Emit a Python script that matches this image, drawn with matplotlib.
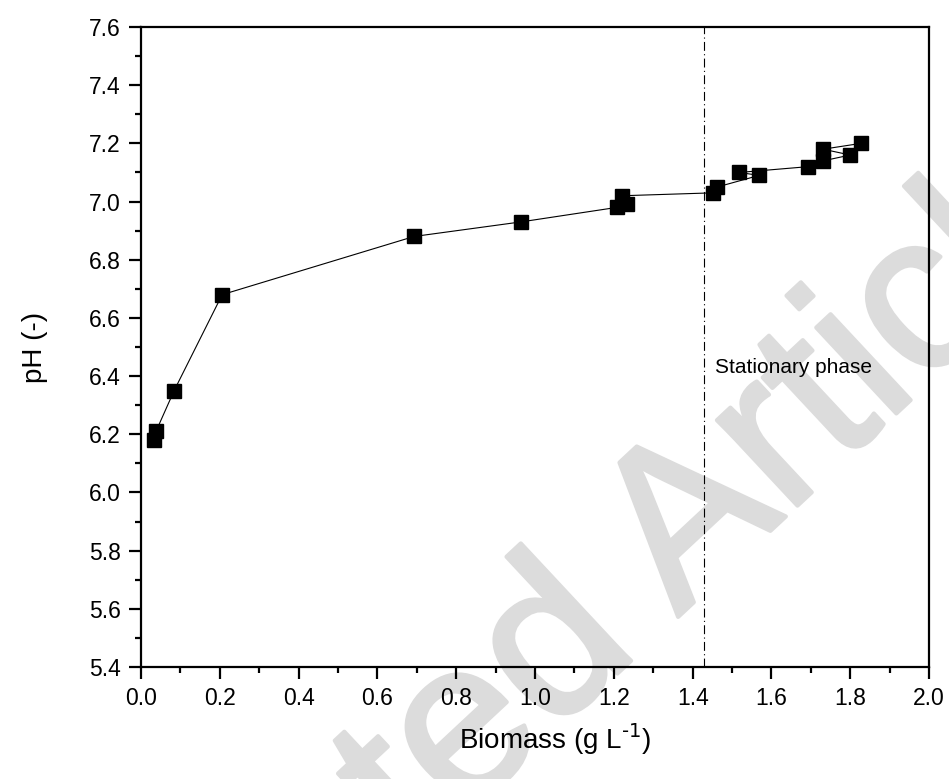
import matplotlib
matplotlib.use("Agg")
import matplotlib.pyplot as plt
from matplotlib.ticker import MultipleLocator, FormatStrFormatter
import matplotlib.patheffects as pe

plt.rcParams['font.family'] = ['Liberation Sans', 'DejaVu Sans']
plt.rcParams['mathtext.default'] = 'regular'

# biomass (g/L) and pH, in sampling order
biomass = [0.033, 0.038, 0.084, 0.206, 0.693, 0.964, 1.208, 1.234, 1.221,
           1.452, 1.462, 1.569, 1.518, 1.693, 1.731, 1.800, 1.731, 1.827]
ph = [6.18, 6.21, 6.35, 6.68, 6.88, 6.93, 6.98, 6.99, 7.02,
      7.03, 7.05, 7.09, 7.10, 7.12, 7.14, 7.16, 7.18, 7.20]

stationary_start = 1.43
phase_label = "Stationary phase"

fig = plt.figure(figsize=(9.49, 7.79), dpi=100)
ax = fig.add_axes([0.1486, 0.1438, 0.8304, 0.8215])
ax.set_facecolor('none')

# watermark behind the plot
wm = fig.text(0.535, 0.105, 'Accepted Article', rotation=43, fontsize=160,
              color='#dcdcdc', ha='center', va='center', rotation_mode='anchor',
              family='Liberation Sans', zorder=-1)
wm.set_path_effects([pe.withStroke(linewidth=3, foreground='#dcdcdc',
                                   capstyle='round', joinstyle='round')])

ax.plot(biomass, ph, color='black', lw=0.8, marker='s', ms=9.5,
        mfc='black', mec='black', zorder=3)

ax.axvline(stationary_start, color='black', lw=0.8, ls=(0, (8, 3, 1, 3)), zorder=2)
ax.text(stationary_start + 0.027, 6.43, phase_label, fontsize=15,
        ha='left', va='center')

ax.set_xlim(0, 2.0)
ax.set_ylim(5.4, 7.6)
ax.xaxis.set_major_locator(MultipleLocator(0.2))
ax.xaxis.set_minor_locator(MultipleLocator(0.1))
ax.yaxis.set_major_locator(MultipleLocator(0.2))
ax.yaxis.set_minor_locator(MultipleLocator(0.1))
ax.xaxis.set_major_formatter(FormatStrFormatter('%.1f'))
ax.yaxis.set_major_formatter(FormatStrFormatter('%.1f'))

for s in ax.spines.values():
    s.set_linewidth(1.6)
ax.tick_params(which='major', direction='out', length=8.5, width=1.6,
               labelsize=16.5, pad=6)
ax.tick_params(which='minor', direction='out', length=4.5, width=1.6)

ax.set_xlabel('Biomass (g L$^{\\text{-1}}$)', fontsize=20)
ax.set_ylabel('pH (-)', fontsize=20)
ax.xaxis.set_label_coords(0.525, -0.085)
ax.yaxis.set_label_coords(-0.118, 0.5)

fig.savefig('out.png', dpi=100)
